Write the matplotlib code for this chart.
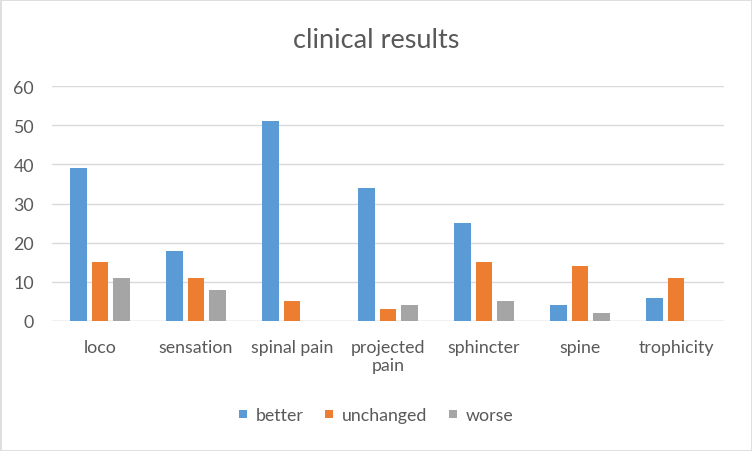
import matplotlib
matplotlib.use("Agg")
import matplotlib.pyplot as plt
import numpy as np
from matplotlib.patches import Rectangle
from matplotlib.lines import Line2D

categories = ["loco", "sensation", "spinal pain", "projected\npain", "sphincter", "spine", "trophicity"]
better = [39, 18, 51, 34, 25, 4, 6]
unchanged = [15, 11, 5, 3, 15, 14, 11]
worse = [11, 8, 0, 4, 5, 2, 0]
series = [("better", better, "#5B9BD5"), ("unchanged", unchanged, "#ED7D31"), ("worse", worse, "#A5A5A5")]

plt.rcParams['font.family'] = ['Lato', 'DejaVu Sans']
fig = plt.figure(figsize=(7.52, 4.52), dpi=100)
ax = fig.add_axes([52/752, 1-322/452, (724-52)/752, (322-87)/452])

x = np.arange(len(categories))
bw = 0.177
step = 0.219
for i, (name, vals, col) in enumerate(series):
    ax.bar(x + (i-1)*step, vals, width=bw, color=col, label=name, zorder=3)

ax.set_xlim(-0.5, len(categories)-0.5)
ax.set_ylim(0, 60)
ax.set_yticks(range(0, 61, 10))
ax.yaxis.grid(True, color="#D9D9D9", linewidth=1.0, zorder=0)
for s in ["top", "right", "left", "bottom"]:
    ax.spines[s].set_visible(False)
ax.axhline(0, color="#D9D9D9", linewidth=1.0, zorder=2)
ax.tick_params(axis='both', length=0, colors="#595959", labelsize=12.8)
ax.tick_params(axis='y', pad=13)
ax.tick_params(axis='x', pad=13)
ax.set_xticks(x)
ax.set_xticklabels(categories, linespacing=1.15, va='top')

fig.text(0.5, 1-41/452, "clinical results", ha='center', va='center', fontsize=19.5, color="#595959")
handles = [Line2D([], [], linestyle='none', marker='s', markersize=6.2, markerfacecolor=c,
                  markeredgewidth=0) for _, _, c in series]
labels = [n for n, _, _ in series]
leg = fig.legend(handles, labels, loc='center', bbox_to_anchor=(0.5, 1-416/452), ncol=3, frameon=False,
                 fontsize=12.8, handlelength=0.5, handletextpad=0.45, columnspacing=1.2)
for t in leg.get_texts():
    t.set_color("#595959")

fig.patches.append(Rectangle((0.5/752, 0.5/452), 1-1/752, 1-1/452, transform=fig.transFigure,
                             fill=False, edgecolor="#D9D9D9", linewidth=1.2))
fig.savefig("out.png", dpi=100)
